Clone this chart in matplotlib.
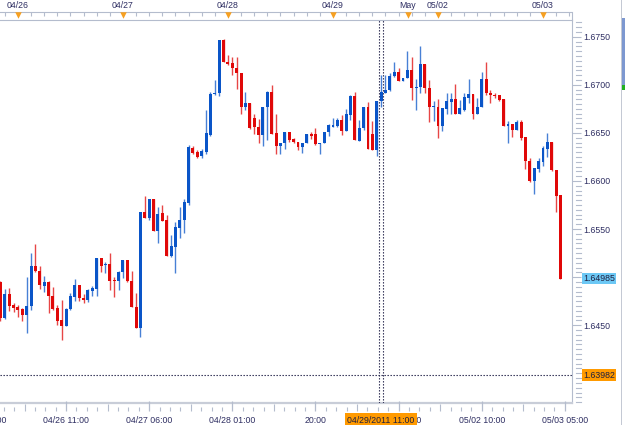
import numpy as np
import matplotlib
matplotlib.use("Agg")
import matplotlib.pyplot as plt
from matplotlib.patches import Rectangle
from matplotlib.transforms import blended_transform_factory

# hourly bars, bar 0 = 04/26 00:00
bar_index = np.arange(-4, 125)

opens = [
    1.6495, 1.6458, 1.6482, 1.6471, 1.6469, 1.6467, 1.6461, 1.6470, 1.6512, 1.6506,
    1.6491, 1.6495, 1.6480, 1.6468, 1.6455, 1.6449, 1.6467, 1.6479, 1.6492, 1.6478,
    1.6476, 1.6486, 1.6488, 1.6520, 1.6513, 1.6514, 1.6497, 1.6496, 1.6505, 1.6518,
    1.6496, 1.6469, 1.6447, 1.6568, 1.6561, 1.6581, 1.6548, 1.6567, 1.6559, 1.6522,
    1.6531, 1.6551, 1.6559, 1.6577, 1.6634, 1.6630, 1.6626, 1.6630, 1.6648, 1.6690,
    1.6691, 1.6747, 1.6724, 1.6723, 1.6717, 1.6712, 1.6677, 1.6681, 1.6665, 1.6656,
    1.6648, 1.6677, 1.6693, 1.6650, 1.6636, 1.6639, 1.6651, 1.6644, 1.6641, 1.6635,
    1.6639, 1.6649, 1.6649, 1.6638, 1.6640, 1.6651, 1.6656, 1.6657, 1.6663, 1.6652,
    1.6669, 1.6688, 1.6642, 1.6655, 1.6677, 1.6649, 1.6632, 1.6683, 1.6692, 1.6695,
    1.6709, 1.6713, 1.6704, 1.6707, 1.6715, 1.6697, 1.6698, 1.6722, 1.6697, 1.6677,
    1.6677, 1.6657, 1.6675, 1.6682, 1.6685, 1.6670, 1.6674, 1.6686, 1.6690, 1.6670,
    1.6677, 1.6706, 1.6692, 1.6689, 1.6689, 1.6685, 1.6657, 1.6659, 1.6653, 1.6661,
    1.6646, 1.6621, 1.6600, 1.6612, 1.6620, 1.6633, 1.6641, 1.6611, 1.6585,
]
highs = [
    1.6496, 1.6488, 1.6489, 1.6473, 1.6471, 1.6468, 1.6500, 1.6525, 1.6534, 1.6512,
    1.6501, 1.6496, 1.6490, 1.6471, 1.6476, 1.6468, 1.6484, 1.6498, 1.6492, 1.6482,
    1.6488, 1.6491, 1.6520, 1.6520, 1.6516, 1.6525, 1.6500, 1.6506, 1.6518, 1.6518,
    1.6506, 1.6483, 1.6568, 1.6584, 1.6581, 1.6581, 1.6573, 1.6575, 1.6565, 1.6544,
    1.6557, 1.6573, 1.6581, 1.6637, 1.6636, 1.6632, 1.6633, 1.6674, 1.6693, 1.6705,
    1.6747, 1.6748, 1.6731, 1.6729, 1.6729, 1.6712, 1.6693, 1.6681, 1.6670, 1.6664,
    1.6677, 1.6694, 1.6700, 1.6670, 1.6639, 1.6651, 1.6651, 1.6645, 1.6641, 1.6640,
    1.6649, 1.6651, 1.6655, 1.6640, 1.6651, 1.6659, 1.6666, 1.6666, 1.6669, 1.6675,
    1.6689, 1.6693, 1.6663, 1.6677, 1.6682, 1.6662, 1.6683, 1.6710, 1.6710, 1.6712,
    1.6724, 1.6718, 1.6707, 1.6735, 1.6729, 1.6706, 1.6740, 1.6722, 1.6705, 1.6683,
    1.6685, 1.6676, 1.6691, 1.6691, 1.6701, 1.6684, 1.6691, 1.6706, 1.6690, 1.6686,
    1.6713, 1.6724, 1.6695, 1.6692, 1.6689, 1.6685, 1.6662, 1.6659, 1.6663, 1.6663,
    1.6646, 1.6624, 1.6614, 1.6624, 1.6636, 1.6650, 1.6641, 1.6611, 1.6585,
]
lows = [
    1.6454, 1.6456, 1.6465, 1.6464, 1.6459, 1.6454, 1.6442, 1.6466, 1.6505, 1.6488,
    1.6485, 1.6463, 1.6466, 1.6450, 1.6435, 1.6449, 1.6466, 1.6475, 1.6475, 1.6473,
    1.6474, 1.6480, 1.6480, 1.6505, 1.6504, 1.6487, 1.6479, 1.6487, 1.6499, 1.6495,
    1.6469, 1.6447, 1.6438, 1.6561, 1.6559, 1.6548, 1.6535, 1.6558, 1.6522, 1.6521,
    1.6504, 1.6541, 1.6546, 1.6575, 1.6628, 1.6624, 1.6624, 1.6628, 1.6647, 1.6689,
    1.6688, 1.6724, 1.6721, 1.6710, 1.6696, 1.6670, 1.6674, 1.6654, 1.6649, 1.6639,
    1.6636, 1.6643, 1.6649, 1.6628, 1.6628, 1.6633, 1.6641, 1.6640, 1.6632, 1.6629,
    1.6639, 1.6644, 1.6637, 1.6628, 1.6639, 1.6647, 1.6656, 1.6656, 1.6648, 1.6652,
    1.6663, 1.6643, 1.6642, 1.6653, 1.6633, 1.6632, 1.6626, 1.6677, 1.6691, 1.6694,
    1.6708, 1.6704, 1.6704, 1.6707, 1.6684, 1.6674, 1.6691, 1.6691, 1.6661, 1.6662,
    1.6645, 1.6652, 1.6670, 1.6670, 1.6670, 1.6670, 1.6673, 1.6681, 1.6664, 1.6670,
    1.6677, 1.6689, 1.6681, 1.6686, 1.6683, 1.6657, 1.6639, 1.6646, 1.6653, 1.6643,
    1.6612, 1.6599, 1.6586, 1.6609, 1.6616, 1.6625, 1.6610, 1.6568, 1.64985,
]
closes = [
    1.6457, 1.6482, 1.6470, 1.6468, 1.6466, 1.6461, 1.6470, 1.6512, 1.6506, 1.6492,
    1.6495, 1.6480, 1.6467, 1.6454, 1.6449, 1.6467, 1.6480, 1.6492, 1.6478, 1.6476,
    1.6487, 1.6489, 1.6520, 1.6512, 1.6514, 1.6496, 1.6496, 1.6505, 1.6518, 1.6496,
    1.6469, 1.6447, 1.6568, 1.6561, 1.6581, 1.6548, 1.6566, 1.6558, 1.6522, 1.6532,
    1.6552, 1.6559, 1.6578, 1.6635, 1.6629, 1.6625, 1.6631, 1.6650, 1.6690, 1.6692,
    1.6747, 1.6724, 1.6722, 1.6717, 1.6712, 1.6677, 1.6681, 1.6655, 1.6656, 1.6648,
    1.6677, 1.6693, 1.6649, 1.6636, 1.6639, 1.6651, 1.6643, 1.6641, 1.6635, 1.6639,
    1.6649, 1.6647, 1.6638, 1.6639, 1.6651, 1.6658, 1.6658, 1.6663, 1.6652, 1.6670,
    1.6688, 1.6643, 1.6655, 1.6677, 1.6633, 1.6632, 1.6683, 1.6693, 1.6695, 1.6709,
    1.6713, 1.6704, 1.6707, 1.6715, 1.6697, 1.6698, 1.6722, 1.6697, 1.6677, 1.6678,
    1.6657, 1.6676, 1.6683, 1.6685, 1.6670, 1.6676, 1.6687, 1.6690, 1.6670, 1.6677,
    1.6706, 1.6691, 1.6689, 1.6688, 1.6684, 1.6657, 1.6659, 1.6653, 1.6661, 1.6645,
    1.6621, 1.6600, 1.6614, 1.6621, 1.6634, 1.6641, 1.6611, 1.6584, 1.64985,
]

time_tick_bars = [-8, 11, 30, 49, 68, 87, 106, 125]
time_tick_labels = ["04/25 16:00", "04/26 11:00", "04/27 06:00", "04/28 01:00",
                    "20:00", "04/29 15:00", "05/02 10:00", "05/03 05:00"]
day_bars = [0, 24, 48, 72, 89.1, 96, 120]
day_labels = ["04/26", "04/27", "04/28", "04/29", "May", "05/02", "05/03"]
price_levels = [1.6450, 1.6500, 1.6550, 1.6600, 1.6650, 1.6700, 1.6750]
last_price = 1.64985
cross_bar = 83
cross_price = 1.63982
cross_label = "04/29/2011 11:00"

BLUE = "#0a55c8"
RED = "#e00808"
TXT = "#2e2e62"
FRAME = "#b4bccd"
ORANGE = "#ff9a00"
FS = 6.3

plt.rcParams["font.family"] = ["Liberation Sans", "DejaVu Sans"]

W, H = 625, 425
fig = plt.figure(figsize=(W / 100, H / 100), dpi=100, facecolor="white")

x_lo, x_hi = -4.11, 126.63
ax = fig.add_axes([0, 22 / H, 572 / W, 383 / H])
ax.set_xlim(x_lo, x_hi)
ax.set_ylim(1.63691, 1.67674)
ax.set_facecolor("white")

o = np.array(opens)
h = np.array(highs)
l = np.array(lows)
c = np.array(closes)
colors = np.where(c >= o, BLUE, RED)

ax.vlines(bar_index, l, h, colors=colors, lw=1.0, alpha=0.75, zorder=2)
ax.bar(bar_index, np.maximum(np.abs(c - o), 0.00009), bottom=np.minimum(o, c),
       width=0.68, color=colors, linewidth=0, zorder=3)

# crosshair
dots = (0, (1.2, 1.5))
ax.axhline(cross_price, color="#1e1e46", lw=0.8, ls=dots, zorder=4)
ax.axvline(cross_bar - 0.46, color="#1e1e46", lw=0.8, ls=dots, zorder=4)
ax.axvline(cross_bar + 0.46, color="#1e1e46", lw=0.8, ls=dots, zorder=4)

# frame
ax.spines["left"].set_visible(False)
ax.spines["top"].set_color(FRAME)
ax.spines["top"].set_linewidth(0.8)
ax.spines["right"].set_color(FRAME)
ax.spines["right"].set_linewidth(0.8)
ax.spines["bottom"].set_color("#c8cdd8")
ax.spines["bottom"].set_linewidth(1.6)

# price axis on the right (the level under the last-price box is hidden)
ax.xaxis.set_visible(False)
ax.yaxis.tick_right()
ax.set_yticks(price_levels)
ax.set_yticklabels(["" if abs(p - last_price) < 0.0003 else f"{p:.4f}"
                    for p in price_levels])
ax.tick_params(axis="y", which="major", length=6.3, width=0.8, color=FRAME,
               pad=1.5, labelsize=FS, labelcolor=TXT)
minor_levels = np.arange(1.6370, 1.6766, 0.0005)
tr = blended_transform_factory(ax.transAxes, ax.transData)
for lv in minor_levels:
    if min(abs(lv - p) for p in price_levels) > 1e-6:
        ax.plot([1.007, 1.0157], [lv, lv], transform=tr, color=FRAME, lw=0.8,
                clip_on=False)

ax.text(1.0195, last_price, f"{last_price:.5f}", transform=tr, fontsize=FS,
        color="#202040", va="center", ha="left", zorder=10, clip_on=False,
        bbox=dict(boxstyle="square,pad=0.15", fc="#6cc8f5", ec="none"))
ax.text(1.0195, cross_price, f"{cross_price:.5f}", transform=tr, fontsize=FS,
        color="#202040", va="center", ha="left", zorder=10, clip_on=False,
        bbox=dict(boxstyle="square,pad=0.15", fc=ORANGE, ec="none"))

# top date strip
ax_top = fig.add_axes([0, 405 / H, 572 / W, 20 / H], sharex=ax)
ax_top.set_ylim(20, 0)
ax_top.axis("off")
ax_top.axhline(12, color=FRAME, lw=0.8)
ax_top.plot([x_hi, x_hi], [12, 20], color=FRAME, lw=0.8, clip_on=False)
ax_top.vlines(np.arange(-3, 127, 3), 12, 16, color=FRAME, lw=0.8)
ax_top.scatter(day_bars, [15] * len(day_bars), marker="v", s=22, color="#f7a020",
               linewidths=0, zorder=3)
for xb, lab in zip(day_bars, day_labels):
    ax_top.text(xb, 5.8, lab, ha="center", va="center", fontsize=FS, color=TXT)

# bottom time axis
ax_bot = fig.add_axes([0, 0, 572 / W, 22 / H], sharex=ax)
ax_bot.set_ylim(22, 0)
ax_bot.axis("off")
ax_bot.vlines(time_tick_bars, -2, 8, color=FRAME, lw=0.9, clip_on=False)
step = 19 / 8
for t0 in time_tick_bars:
    for k in range(1, 8):
        ax_bot.vlines(t0 + k * step, 1 if k == 4 else 3.5, 8, color=FRAME, lw=0.8)
for xb, lab in zip(time_tick_bars, time_tick_labels):
    ax_bot.text(xb, 17.3, lab, ha="center", va="center", fontsize=FS, color=TXT,
                clip_on=False, zorder=2)
ax_bot.text(cross_bar, 17.3, cross_label, ha="center", va="center", fontsize=FS,
            color="#202040", zorder=5, clip_on=False,
            bbox=dict(boxstyle="square,pad=0.3", fc=ORANGE, ec="none"))

# edge of the neighbouring panel
fig.add_artist(Rectangle((621 / W, 0), 1 / W, 1, transform=fig.transFigure,
                         color="#c4c9d4", lw=0))
fig.add_artist(Rectangle((622 / W, 1 - 85 / H), 3 / W, 67 / H,
                         transform=fig.transFigure, color="#7d98d0", lw=0))
fig.add_artist(Rectangle((622 / W, 1 - 90 / H), 3 / W, 5 / H,
                         transform=fig.transFigure, color="#20b020", lw=0))

fig.savefig("out.png", dpi=100, facecolor="white")
